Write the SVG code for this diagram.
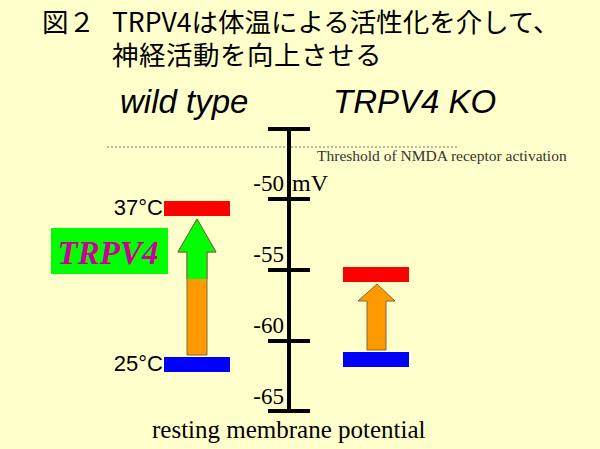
<svg xmlns="http://www.w3.org/2000/svg" width="600" height="449" viewBox="0 0 600 449">
<style>
.title{font-family:"Noto Sans CJK JP","Liberation Sans",sans-serif;font-size:26.5px;fill:#000}
.head{font-family:"Liberation Sans",Arial,sans-serif;font-style:italic;font-size:33px;fill:#000}
.ser{font-family:"Liberation Serif","Times New Roman",serif;fill:#000}
.tick{font-family:"Liberation Serif","Times New Roman",serif;font-size:23px;fill:#000;text-anchor:end}
.temp{font-family:"Liberation Sans",Arial,sans-serif;font-size:22px;fill:#000;text-anchor:end}
.axis{stroke:#000;stroke-width:4;fill:none}
.arrow{stroke:#7a6a3a;stroke-width:1}
</style>
<rect width="600" height="449" fill="#FFFFCC"/>
<g id="title">
<text class="title" x="42" y="32">図２</text>
<text class="title" x="112" y="32">TRPV4は体温による活性化を介して、</text>
<text class="title" x="112" y="65" letter-spacing="0.5">神経活動を向上させる</text>
</g>
<g id="headers">
<text class="head" x="120" y="113">wild type</text>
<text class="head" x="333" y="113">TRPV4 KO</text>
</g>
<g id="threshold">
<line x1="107" y1="147" x2="457" y2="147" stroke="#777" stroke-width="1" stroke-dasharray="2,2"/>
<text class="ser" x="317" y="161" font-size="15.5" style="fill:#333">Threshold of NMDA receptor activation</text>
</g>
<g id="axis">
<line class="axis" x1="289" y1="128" x2="289" y2="412"/>
<line class="axis" x1="268" y1="129" x2="310" y2="129"/>
<line class="axis" x1="268" y1="199" x2="310" y2="199"/>
<line class="axis" x1="268" y1="270" x2="310" y2="270"/>
<line class="axis" x1="268" y1="341" x2="310" y2="341"/>
<line class="axis" x1="268" y1="411" x2="310" y2="411"/>
<text class="tick" x="284" y="191">-50</text>
<text class="ser" x="292" y="191" font-size="24">mV</text>
<text class="tick" x="284" y="262">-55</text>
<text class="tick" x="284" y="333">-60</text>
<text class="tick" x="284" y="404">-65</text>
<text class="ser" x="152" y="438" font-size="25">resting membrane potential</text>
</g>
<g id="wildtype">
<rect x="164" y="201" width="66" height="15" fill="#FF0000"/>
<rect x="164" y="357" width="66" height="15" fill="#0000FF"/>
<text class="temp" x="163" y="215">37°C</text>
<text class="temp" x="163" y="371">25°C</text>
<polygon points="187,355 187,252 178,252 197,219 216,252 207,252 207,355" fill="#FF9900" class="arrow"/>
<polygon points="187,279 187,252 178,252 197,219 216,252 207,252 207,279" fill="#00FF00"/>
<polyline points="187,279 187,252 178,252 197,219 216,252 207,252 207,279" fill="none" class="arrow"/>
</g>
<g id="trpv4label">
<rect x="51" y="228" width="117" height="46" fill="#00FF00"/>
<text x="108" y="264" text-anchor="middle" font-family="Liberation Serif,Times New Roman,serif" font-weight="bold" font-style="italic" font-size="33" fill="#CC0099">TRPV4</text>
</g>
<g id="ko">
<rect x="343" y="267" width="66" height="15" fill="#FF0000"/>
<rect x="343" y="352" width="66" height="15" fill="#0000FF"/>
<polygon points="367,350 367,301 358,301 377,284 395,301 386,301 386,350" fill="#FF9900" class="arrow"/>
</g>
</svg>
